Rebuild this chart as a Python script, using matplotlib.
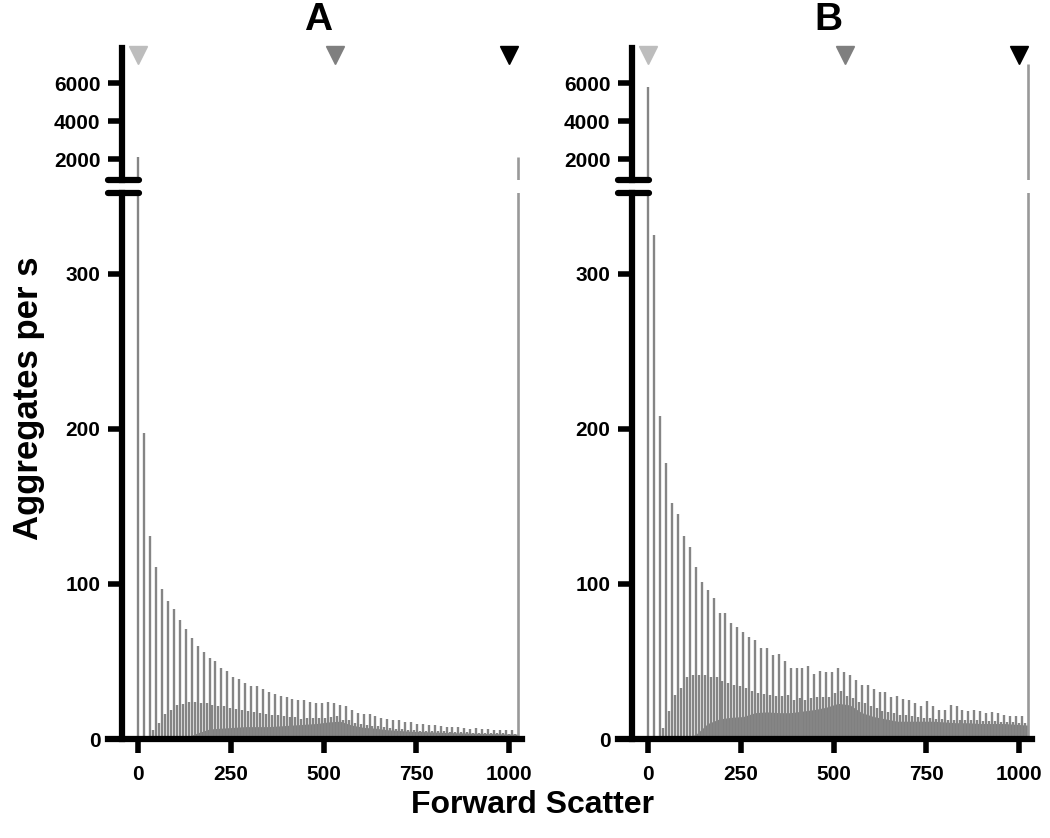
import matplotlib
matplotlib.use("Agg")
import matplotlib.pyplot as plt
import matplotlib.transforms as mtrans
import numpy as np

plt.rcParams['font.family'] = ['Liberation Sans', 'DejaVu Sans']
plt.rcParams['font.weight'] = 'bold'

# channel positions (forward scatter)
spike_x = np.arange(0, 1024, 16)
mid_x = spike_x + 8
base_x = np.arange(0, 1025, 32)
edge_x = 1025

# panel A
spikes_a = [2100, 197, 131, 111, 97, 89, 84, 77, 71, 65,
            60, 56, 52, 50, 46, 44, 40, 39, 36, 34,
            34, 32, 30, 29, 27.5, 27, 26, 25, 25, 24,
            23, 23, 24, 23, 22, 21, 19, 17, 16, 16,
            15, 13.5, 13, 12.5, 12.5, 11, 11, 10, 10, 9,
            9, 8.6, 8, 8, 7.5, 7, 6.7, 7, 6.7, 6.5,
            6, 6, 5.6, 6]
mids_a = [0, 0, 6, 10.5, 16, 19, 22, 22.5, 24, 24,
          23.5, 23.5, 22, 21.5, 21, 20, 19.5, 19, 18, 17.5,
          17, 16, 15.5, 15.5, 15, 14, 14, 12.7, 13.3, 13.3,
          13.3, 13.3, 14.4, 15, 12.3, 12.3, 10.5, 10, 9, 8.6,
          8.4, 7.5, 6.9, 6.2, 6.2, 6, 5.8, 5.5, 5.5, 5.2,
          5, 5, 4.8, 4.6, 4.5, 4.4, 4.2, 4, 4, 3.8,
          3.7, 3.6, 3.5, 3.4]
base_a = [0, 0, 0, 0.5, 1, 4, 6.5, 7, 7.5, 8, 8, 8, 8.5, 9, 9.5, 10, 11,
          11.5, 9, 7.5, 7, 6, 5.5, 5, 4.8, 4.5, 4.2, 4, 3.8, 3.6, 3.5, 3.3, 3.2]
edge_a = 2100

# panel B
spikes_b = [5800, 325, 208, 178, 152, 145, 131, 124, 111, 101.5,
            96, 91, 81.5, 81, 75, 72, 69, 66, 64, 59,
            59, 54, 55, 50, 46, 46, 46, 47, 42, 44,
            43.5, 43, 46, 43.5, 41.5, 38, 35, 35, 32, 30,
            30, 27, 28, 26, 25, 23, 21.5, 24.7, 21, 19,
            19, 21.7, 21, 19, 18, 18.7, 18, 17, 17.4, 17,
            15.7, 14.6, 15, 15]
mids_b = [0, 1, 7, 18, 28.5, 33, 40, 41, 41.4, 41,
          40.3, 40, 37.5, 36, 35, 34.5, 33, 30.7, 29.6, 29,
          28.5, 27.5, 27.5, 28.5, 25.3, 26.4, 25.3, 26.4, 27, 26.8,
          26.8, 29.6, 31, 27.5, 26.4, 23.8, 23, 21, 20, 18.2,
          17.4, 16.7, 15.7, 15.2, 14.6, 14, 13.5, 13.5, 13, 13,
          12.5, 12.5, 12.5, 12, 12, 12, 11.5, 11.5, 11.5, 11,
          11, 11, 10.5, 10.5]
base_b = [0, 0, 0, 0.5, 3, 10, 13, 14, 14.5, 17, 17.5, 17, 17, 18, 19, 20.5, 23,
          22, 17, 14.5, 13, 11.5, 11.5, 11.5, 11.5, 11, 10.5, 10.5, 10, 10, 10, 9.5, 9]
edge_b = 7000

marker_x = [0, 530, 1000]
marker_colors = ['#bdbdbd', '#7f7f7f', '#000000']

xticks = [0, 250, 500, 750, 1000]
low_ticks = [0, 100, 200, 300]
up_ticks = [2000, 4000, 6000]

GRAY = '#858585'
FILL = '#7f7f7f'


def style_axis(ax):
    for s in ['top', 'right']:
        ax.spines[s].set_visible(False)
    ax.spines['left'].set_position(('data', -43))
    ax.spines['left'].set_linewidth(4.5)
    ax.spines['bottom'].set_linewidth(4.5)
    ax.tick_params(width=4, length=10, labelsize=15)
    ax.tick_params(axis='y', pad=6)
    ax.tick_params(axis='x', pad=9)
    ax.set_xlim(-82, 1035)


def draw_panel(ax_up, ax_low, spikes, mids, base, edge):
    for ax in (ax_up, ax_low):
        ax.fill_between(base_x, 0, base, color=FILL, lw=0)
        ax.vlines(mid_x, 0, mids, color=GRAY, lw=1.7)
        ax.vlines(spike_x, 0, spikes, color=GRAY, lw=1.7)
        ax.vlines([edge_x], 0, [edge], color='#999999', lw=1.9)
        style_axis(ax)

    ax_low.set_ylim(0, 352)
    ax_low.set_yticks(low_ticks)
    ax_low.set_xticks(xticks)

    ax_up.set_ylim(895, 7842)
    ax_up.set_yticks(up_ticks)
    ax_up.spines['bottom'].set_visible(False)
    ax_up.set_xticks([])

    # break marks
    ax_up.plot([0.0, 0.075], [0, 0], transform=ax_up.transAxes, color='black',
               lw=4.5, solid_capstyle='round', clip_on=False)
    ax_low.plot([0.0, 0.075], [1, 1], transform=ax_low.transAxes, color='black',
                lw=4.5, solid_capstyle='round', clip_on=False)

    trans = mtrans.blended_transform_factory(ax_up.transData, ax_up.transAxes)
    for mx, mc in zip(marker_x, marker_colors):
        ax_up.plot([mx], [0.948], marker='v', ms=13, color=mc, mec=mc,
                   transform=trans, clip_on=False, zorder=5)

    for lab in ax_low.get_xticklabels() + ax_low.get_yticklabels() + ax_up.get_yticklabels():
        lab.set_fontweight('bold')


fig = plt.figure(figsize=(10.5, 8.38), dpi=100)

left_a, left_b, width = 0.1029, 0.5886, 0.394
low_bottom, low_height = 0.1181, 0.6516
up_bottom, up_height = 0.7852, 0.1575

ax_a_up = fig.add_axes([left_a, up_bottom, width, up_height])
ax_a_low = fig.add_axes([left_a, low_bottom, width, low_height])
ax_b_up = fig.add_axes([left_b, up_bottom, width, up_height])
ax_b_low = fig.add_axes([left_b, low_bottom, width, low_height])

draw_panel(ax_a_up, ax_a_low, spikes_a, mids_a, base_a, edge_a)
draw_panel(ax_b_up, ax_b_low, spikes_b, mids_b, base_b, edge_b)

fig.text(0.303, 0.976, 'A', fontsize=28, fontweight='bold', ha='center', va='center')
fig.text(0.789, 0.976, 'B', fontsize=28, fontweight='bold', ha='center', va='center')
fig.text(0.027, 0.525, 'Aggregates per s', fontsize=25, fontweight='bold',
         rotation=90, ha='center', va='center')
fig.text(0.507, 0.039, 'Forward Scatter', fontsize=23, fontweight='bold',
         ha='center', va='center')

fig.savefig('out.png', dpi=100)
